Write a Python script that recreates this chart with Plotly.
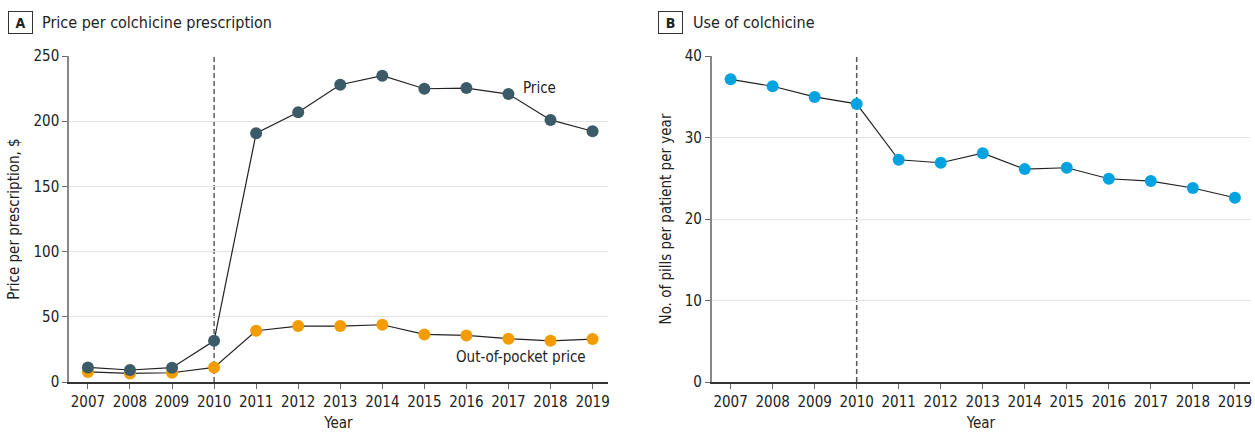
import plotly.graph_objects as go

years = list(range(2007, 2020))
price = [11.2, 9.2, 11.0, 31.6, 190.8, 206.9, 228.0, 234.9, 224.9, 225.4, 220.8, 201.0, 192.3]
oop_price = [7.7, 6.6, 7.1, 11.2, 39.3, 42.9, 42.9, 43.9, 36.5, 35.7, 33.2, 31.6, 32.9]
pills = [37.14, 36.29, 34.98, 34.12, 27.27, 26.9, 28.08, 26.12, 26.29, 24.94, 24.65, 23.8, 22.61]

price_ticks = [0, 50, 100, 150, 200, 250]
pill_ticks = [0, 10, 20, 30, 40]

FONT = "DejaVu Sans Condensed, DejaVu Sans, sans-serif"
TXT = "#222222"
C_PRICE = "#3b5b69"
C_OOP = "#f39c00"
C_PILLS = "#00a3e0"

W, H = 1255, 432

fig = go.Figure()

line_style = dict(color="#222222", width=1.2)

# out-of-pocket first so the price markers sit on top where they overlap
fig.add_trace(go.Scatter(x=years, y=oop_price, mode="lines+markers", line=line_style,
                         marker=dict(size=12, color=C_OOP), xaxis="x", yaxis="y",
                         showlegend=False))
fig.add_trace(go.Scatter(x=years, y=price, mode="lines+markers", line=line_style,
                         marker=dict(size=12, color=C_PRICE), xaxis="x", yaxis="y",
                         showlegend=False))
fig.add_trace(go.Scatter(x=years, y=pills, mode="lines+markers", line=line_style,
                         marker=dict(size=12, color=C_PILLS), xaxis="x2", yaxis="y2",
                         showlegend=False))

y_bottom = 1 - 382 / H
y_top = 1 - 56 / H

xcommon = dict(range=[2006.55, 2019.36], tickmode="array", tickvals=years,
               ticktext=[str(y) for y in years], ticks="outside", ticklen=5,
               tickcolor="#666666", showline=True, linecolor="#333333", linewidth=1.5,
               showgrid=False, zeroline=False, fixedrange=True, automargin=False,
               tickfont=dict(family=FONT, size=15, color=TXT),
               title=dict(text="Year", font=dict(family=FONT, size=15, color=TXT), standoff=17))
ycommon = dict(ticks="outside", ticklen=5, tickcolor="#666666", showline=True,
               linecolor="#888888", linewidth=1.5, showgrid=True, gridcolor="#e4e4e4",
               gridwidth=1, zeroline=False, fixedrange=True, automargin=False,
               tickfont=dict(family=FONT, size=15, color=TXT))

fig.update_layout(
    width=W, height=H, margin=dict(l=0, r=0, t=0, b=0),
    paper_bgcolor="white", plot_bgcolor="white",
    xaxis=dict(domain=[69 / W, 607.7 / W], anchor="y", **xcommon),
    xaxis2=dict(domain=[711.7 / W, 1250 / W], anchor="y2", **xcommon),
    yaxis=dict(domain=[y_bottom, y_top], anchor="x", range=[0, 250], tickvals=price_ticks,
               title=dict(text="Price per prescription, $", font=dict(family=FONT, size=15, color=TXT), standoff=10),
               **ycommon),
    yaxis2=dict(domain=[y_bottom, y_top], anchor="x2", range=[0, 40], tickvals=pill_ticks,
                title=dict(text="No. of pills per patient per year", font=dict(family=FONT, size=15, color=TXT), standoff=10),
                **ycommon),
)

# vertical reference line at 2010
fig.add_shape(type="line", xref="x", yref="y", x0=2010, x1=2010, y0=0, y1=250,
              line=dict(color="#333333", width=1.2, dash="5px,3px"), layer="below")
fig.add_shape(type="line", xref="x2", yref="y2", x0=2010, x1=2010, y0=0, y1=40,
              line=dict(color="#555555", width=1.5, dash="5px,3px"), layer="below")

# series labels
fig.add_annotation(x=2017.3, y=225.5, xref="x", yref="y", text="Price", showarrow=False,
                   xanchor="left", yanchor="middle", font=dict(family=FONT, size=15, color=TXT))
fig.add_annotation(x=2018.9, y=19.2, xref="x", yref="y", text="Out-of-pocket price", showarrow=False,
                   xanchor="right", yanchor="middle", font=dict(family=FONT, size=15, color=TXT))

# panel headings
for letter, box_x, title, title_x in [("A", 8, "Price per colchicine prescription", 40),
                                      ("B", 658, "Use of colchicine", 691)]:
    fig.add_annotation(x=box_x / W, y=1 - 22 / H, xref="paper", yref="paper",
                       text="<b>" + letter + "</b>", showarrow=False, xanchor="left", yanchor="middle",
                       font=dict(family=FONT, size=14, color=TXT), bordercolor="#333333",
                       borderwidth=1, borderpad=3, width=17, height=15, bgcolor="white")
    fig.add_annotation(x=title_x / W, y=1 - 22 / H, xref="paper", yref="paper", text=title,
                       showarrow=False, xanchor="left", yanchor="middle",
                       font=dict(family=FONT, size=16, color=TXT))

fig.write_html("out.html")
